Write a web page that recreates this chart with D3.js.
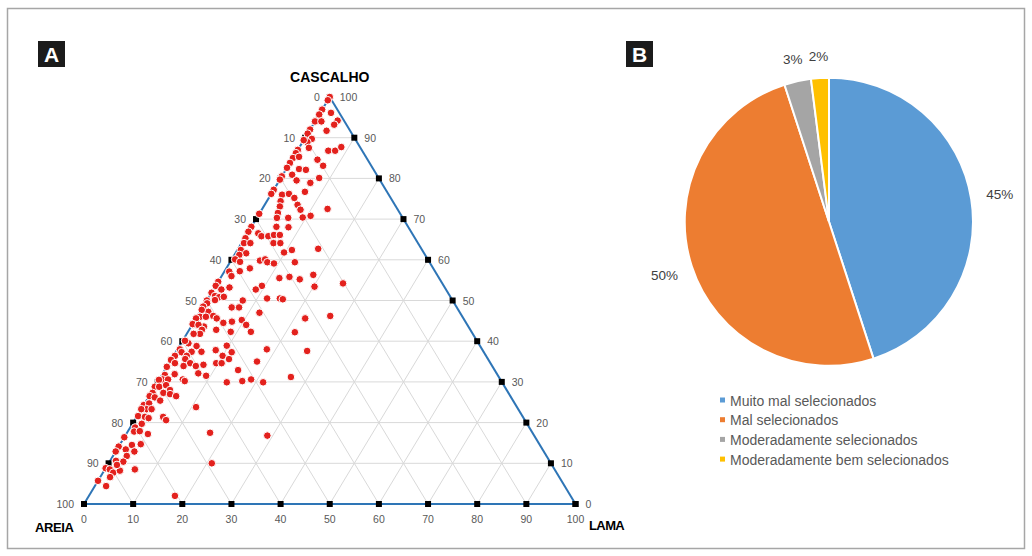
<!DOCTYPE html>
<html>
<head>
<meta charset="utf-8">
<script src="https://cdn.jsdelivr.net/npm/d3@7"></script>
<style>
  html, body { margin: 0; padding: 0; background: #fff; }
  svg { display: block; font-family: "Liberation Sans", Arial, sans-serif; }
</style>
</head>
<body>
<svg id="fig" width="1032" height="556"></svg>
<script>
// ---- Panel A: ternary composition of samples (percent) ----
// cascalho (gravel) and lama (mud); areia (sand) is the remainder to 100.
const cascalho = [
  100, 99.2, 96.9, 96.1, 95.7, 94.0, 94.0, 94.2, 93.2, 92.0,
  91.7, 91.0, 89.7, 88.9, 89.4, 87.5, 86.8, 86.8, 87.7, 87.0,
  86.2, 85.0, 85.3, 84.6, 83.8, 82.6, 82.3, 82.1, 83.1, 80.9,
  80.5, 79.7, 80.1, 79.5, 78.9, 77.2, 76.2, 76.0, 76.2, 76.7,
  75.2, 74.4, 73.1, 73.5, 72.5, 71.5, 72.3, 71.3, 70.3, 70.3,
  70.4, 70.8, 62.7, 56.3, 68.1, 68.0, 68.1, 66.9, 66.5, 65.8,
  65.8, 66.1, 66.1, 65.3, 64.1, 64.1, 64.1, 64.1, 62.4, 61.6,
  61.2, 60.1, 59.5, 61.8, 62.4, 59.8, 60.1, 59.4, 59.1, 59.4,
  57.9, 57.1, 57.2, 56.0, 55.5, 55.8, 55.2, 54.2, 53.4, 53.6,
  52.7, 54.6, 53.6, 52.7, 53.2, 51.9, 51.1, 50.8, 50.9, 50.0,
  49.3, 50.1, 50.0, 50.5, 50.5, 50.3, 48.5, 47.2, 47.7, 48.3,
  48.3, 47.0, 46.0, 46.0, 46.2, 45.6, 45.6, 44.0, 43.6, 44.8,
  45.2, 45.6, 46.2, 44.2, 42.2, 37.6, 31.2, 42.3, 44.0, 42.8,
  41.8, 41.8, 42.8, 42.3, 44.5, 44.0, 39.5, 40.1, 38.8, 37.4,
  37.4, 38.0, 37.3, 36.4, 36.4, 35.4, 34.6, 33.7, 35.6, 34.6,
  33.9, 33.9, 34.2, 37.8, 38.9, 37.3, 36.4, 35.6, 34.6, 34.6,
  35.0, 38.0, 32.9, 32.1, 31.5, 31.9, 30.6, 30.2, 31.7, 30.6,
  30.5, 30.6, 29.9, 30.2, 30.6, 29.9, 28.8, 28.8, 29.2, 28.0,
  27.3, 27.3, 27.0, 26.5, 26.5, 26.2, 25.4, 24.3, 24.7, 23.3,
  23.3, 23.3, 23.8, 21.6, 21.4, 21.1, 21.4, 20.6, 18.8, 19.7,
  17.8, 17.9, 17.2, 17.5, 16.8, 16.4, 14.5, 14.7, 14.1, 12.9,
  13.4, 12.9, 11.8, 10.4, 10.6, 8.8, 8.5, 7.7, 8.2, 9.6,
  8.5, 6.6, 10.0, 5.7, 4.4, 2.0
];
const lama = [
  0, 0, 0, 2.2, 0, 0, 1.3, 4.5, 4.3, 0,
  3.5, 0, 1.5, 1.0, 0, 2.0, 6.3, 7.7, 8.5, 0,
  0, 0, 1.1, 5.2, 0, 0, 2.6, 4.1, 7.1, 1.9,
  0, 0, 7.8, 3.5, 6.6, 0, 0, 2.3, 3.6, 6.6,
  5.2, 2.8, 3.3, 6.7, 13.3, 3.7, 7.9, 0, 4.1, 6.4,
  9.3, 10.7, 16.3, 18.5, 5.1, 7.6, 0, 0, 2.2, 3.2,
  4.6, 5.6, 6.8, 0.2, 0.5, 1.8, 6.5, 7.9, 0.7, 2.2,
  1.0, 0.7, 2.0, 9.8, 11.1, 5.9, 6.8, 7.6, 9.1, 13.2,
  4.8, 1.0, 3.1, 2.0, 12.0, 13.9, 16.3, 25.6, 20.2, 9.4,
  8.6, 0, 0, 1.6, 3.0, 0, 1.1, 2.1, 3.0, 0,
  0.4, 1.6, 7.3, 12.0, 14.6, 15.3, 0, 1.7, 0.1, 5.9,
  7.4, 12.2, 0.6, 1.8, 3.2, 4.2, 0, 0.6, 2.6, 7.7,
  9.5, 22.2, 27.0, 0, 21.8, 26.6, 26.5, 12.8, 1.3, 2.6,
  2.7, 1.4, 5.5, 8.7, 6.1, 11.0, 1.5, 0.5, 3.5, 3.2,
  5.2, 0.5, 1.2, 0.3, 2.7, 0, 1.2, 0, 2.8, 4.3,
  3.3, 5.8, 7.2, 7.9, 9.6, 11.4, 10.0, 11.7, 9.6, 10.7,
  17.7, 18.2, 14.9, 7.2, 9.1, 2.5, 4.8, 5.4, 0.6, 0.7,
  0, 1.8, 14.1, 17.1, 18.7, 21.5, 0, 0.9, 2.1, 3.5,
  2.5, 0.3, 4.0, 5.5, 0.1, 1.3, 2.8, 0, 0.9, 1.1,
  2.1, 0, 10.9, 0.2, 1.7, 2.6, 5.4, 6.4, 1.0, 1.9,
  1.3, 2.4, 4.4, 16.9, 28.9, 0, 2.5, 4.2, 0, 0,
  1.8, 3.8, 2.8, 2.8, 1.2, 0, 1.0, 2.1, 3.2, 1.9,
  6.1, 2.0, 21.0, 0, 2.3, 17.5
];
const ternaryTicks = [0, 10, 20, 30, 40, 50, 60, 70, 80, 90, 100];
const axisTitles = ["CASCALHO", "AREIA", "LAMA"];

// ---- Panel B: sorting classes ----
const sortingClasses = ["Muito mal selecionados", "Mal selecionados",
                        "Moderadamente selecionados", "Moderadamente bem selecionados"];
const sortingShare = [45, 50, 3, 2];
const sortingColors = ["#5b9bd5", "#ed7d31", "#a5a5a5", "#ffc000"];

const svg = d3.select("#fig");
svg.append("rect").attr("width", 1032).attr("height", 556).attr("fill", "#fff");
svg.append("rect").attr("x", 7.5).attr("y", 8.5).attr("width", 1017).attr("height", 540)
  .attr("fill", "none").attr("stroke", "#a6a6a6").attr("stroke-width", 1.5);

function panelTag(x, y, letter) {
  svg.append("rect").attr("x", x).attr("y", y).attr("width", 27).attr("height", 26).attr("fill", "#1b1b1b");
  svg.append("text").attr("x", x + 13.5).attr("y", y + 21).attr("text-anchor", "middle")
    .attr("fill", "#fff").attr("font-weight", "bold").attr("font-size", 21).text(letter);
}
panelTag(38, 41, "A");
panelTag(626, 41, "B");

// ---- Ternary diagram ----
const lamaX = d3.scaleLinear().domain([0, 100]).range([84, 575.5]);
const cascY = d3.scaleLinear().domain([0, 100]).range([504, 97]);
// position from cascalho (c) and lama (m)
const pt = (c, m) => [lamaX(m + c / 2), cascY(c)];

const gA = svg.append("g");
const line = d3.line();
const gridVals = ternaryTicks.filter(v => v > 0 && v < 100);
const grid = gA.append("g").attr("stroke", "#d9d9d9").attr("stroke-width", 1).attr("fill", "none");
gridVals.forEach(v => {
  grid.append("path").attr("d", line([pt(v, 0), pt(v, 100 - v)]));         // constant cascalho
  grid.append("path").attr("d", line([pt(0, v), pt(100 - v, v)]));         // constant lama
  grid.append("path").attr("d", line([pt(0, 100 - v), pt(100 - v, 0)]));   // constant areia
});

const edges = gA.append("g").attr("stroke", "#2e75b6").attr("stroke-width", 2).attr("fill", "none");
edges.append("path").attr("d", line([pt(0, 0), pt(0, 100)]));
edges.append("path").attr("d", line([pt(0, 100), pt(100, 0)]));
edges.append("path").attr("d", line([pt(100, 0), pt(0, 0)]));

// tick markers on the three edges
const marks = gA.append("g").attr("fill", "#000");
ternaryTicks.forEach(v => {
  [pt(0, v), pt(100 - v, 0), pt(v, 100 - v)].forEach(p => {
    marks.append("rect").attr("x", p[0] - 3).attr("y", p[1] - 3).attr("width", 6).attr("height", 6);
  });
});

const tickText = gA.append("g").attr("fill", "#595959").attr("font-size", 10.5);
ternaryTicks.forEach(v => {
  const b = pt(0, v);
  tickText.append("text").attr("x", b[0]).attr("y", b[1] + 18.5).attr("text-anchor", "middle").text(v);
  const l = pt(100 - v, 0);
  tickText.append("text").attr("x", l[0] - 10).attr("y", l[1] + 4).attr("text-anchor", "end").text(v);
  const r = pt(v, 100 - v);
  tickText.append("text").attr("x", r[0] + 10).attr("y", r[1] + 4).attr("text-anchor", "start").text(v);
});

const titles = gA.append("g").attr("font-weight", "bold").attr("fill", "#000");
titles.append("text").attr("x", pt(100, 0)[0]).attr("y", 82).attr("text-anchor", "middle")
  .attr("font-size", 14).text(axisTitles[0]);
titles.append("text").attr("x", 35).attr("y", 532).attr("font-size", 13)
  .attr("letter-spacing", -0.4).text(axisTitles[1]);
titles.append("text").attr("x", 589).attr("y", 530).attr("font-size", 13)
  .attr("letter-spacing", -0.6).text(axisTitles[2]);

const samples = cascalho.map((c, i) => ({ c, m: lama[i], a: 100 - c - lama[i] }));
gA.append("g").selectAll("circle").data(samples).join("circle")
  .attr("cx", d => pt(d.c, d.m)[0])
  .attr("cy", d => pt(d.c, d.m)[1])
  .attr("r", 3.8)
  .attr("fill", "#e3211d")
  .attr("stroke", "#fff")
  .attr("stroke-width", 1);

// ---- Pie chart ----
const cx = 829, cy = 221.7, R = 144;
const pie = d3.pie().sort(null).value(d => d)(sortingShare);
const arc = d3.arc().innerRadius(0).outerRadius(R);
const gB = svg.append("g").attr("transform", `translate(${cx},${cy})`);
gB.selectAll("path").data(pie).join("path")
  .attr("d", arc)
  .attr("fill", (d, i) => sortingColors[i])
  .attr("stroke", "#fff")
  .attr("stroke-width", 2);

gB.selectAll("text.pct").data(pie).join("text")
  .attr("class", "pct")
  .attr("transform", d => {
    const rr = d.value < 5 ? 166 : 173;
    const p = d3.arc().innerRadius(rr).outerRadius(rr).centroid(d);
    return `translate(${p[0]},${p[1]})`;
  })
  .attr("text-anchor", "middle")
  .attr("dominant-baseline", "central")
  .attr("font-size", 13.5)
  .attr("fill", "#404040")
  .text(d => d.value + "%");

const legend = svg.append("g").attr("transform", "translate(720,400)");
sortingClasses.forEach((name, i) => {
  const row = legend.append("g").attr("transform", `translate(0,${i * 19.7})`);
  row.append("rect").attr("x", 0).attr("y", -2.5).attr("width", 5).attr("height", 5).attr("fill", sortingColors[i]);
  row.append("text").attr("x", 10).attr("y", 0.5).attr("dominant-baseline", "central")
    .attr("font-size", 14).attr("fill", "#595959").text(name);
});
</script>
</body>
</html>
